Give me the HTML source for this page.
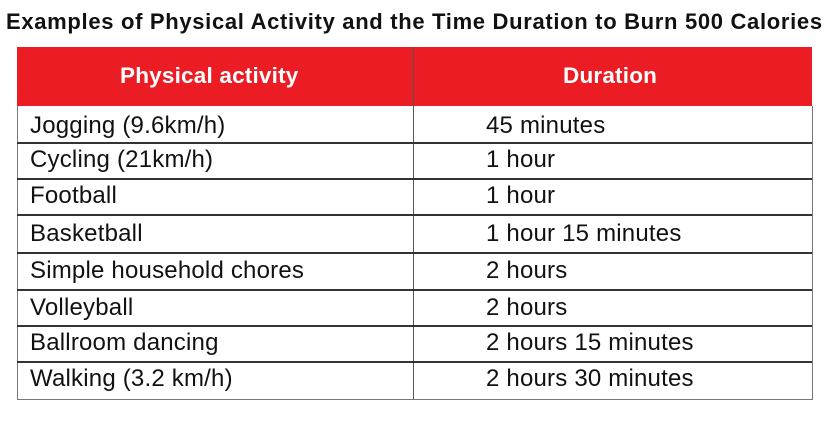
<!DOCTYPE html>
<html><head><meta charset="utf-8"><style>
body{margin:0;width:837px;height:422px;background:#fff;font-family:"Liberation Sans",sans-serif;position:relative;overflow:hidden}
.t{position:absolute;left:6px;top:9px;font-weight:bold;font-size:22px;color:#111;white-space:nowrap;letter-spacing:0.68px}
.h{position:absolute;left:17px;top:47px;width:795px;height:59px;background:#ec1c24}
.h div{position:absolute;top:16px;color:#fff;font-weight:bold;font-size:22.5px;letter-spacing:0.2px}
.box{position:absolute;left:17px;top:106px;width:794px;height:293px;border:1px solid #777;border-top:none;box-sizing:content-box}
.vl{position:absolute;left:413px;top:47px;width:1px;height:352px;background:#555}
.hl{position:absolute;left:17px;width:795px;height:1.5px;background:#333}
.c{position:absolute;font-size:24px;color:#111;white-space:nowrap;letter-spacing:0.2px}
</style></head><body>
<div class="t">Examples of Physical Activity and the Time Duration to Burn 500 Calories</div>
<div class="h"><div style="left:103px">Physical activity</div><div style="left:546px">Duration</div></div>
<div class="box"></div>
<div class="vl"></div>
<div class="hl" style="top:142px"></div>
<div class="hl" style="top:178px"></div>
<div class="hl" style="top:214px"></div>
<div class="hl" style="top:252px"></div>
<div class="hl" style="top:289px"></div>
<div class="hl" style="top:325px"></div>
<div class="hl" style="top:361px"></div>
<div class="c" style="left:30px;top:112px">Jogging (9.6km/h)</div><div class="c" style="left:486px;top:112px">45 minutes</div>
<div class="c" style="left:30px;top:146px">Cycling (21km/h)</div><div class="c" style="left:486px;top:146px">1 hour</div>
<div class="c" style="left:30px;top:182px">Football</div><div class="c" style="left:486px;top:182px">1 hour</div>
<div class="c" style="left:30px;top:220px">Basketball</div><div class="c" style="left:486px;top:220px">1 hour 15 minutes</div>
<div class="c" style="left:30px;top:257px">Simple household chores</div><div class="c" style="left:486px;top:257px">2 hours</div>
<div class="c" style="left:30px;top:294px">Volleyball</div><div class="c" style="left:486px;top:294px">2 hours</div>
<div class="c" style="left:30px;top:329px">Ballroom dancing</div><div class="c" style="left:486px;top:329px">2 hours 15 minutes</div>
<div class="c" style="left:30px;top:365px">Walking (3.2 km/h)</div><div class="c" style="left:486px;top:365px">2 hours 30 minutes</div>
</body></html>
